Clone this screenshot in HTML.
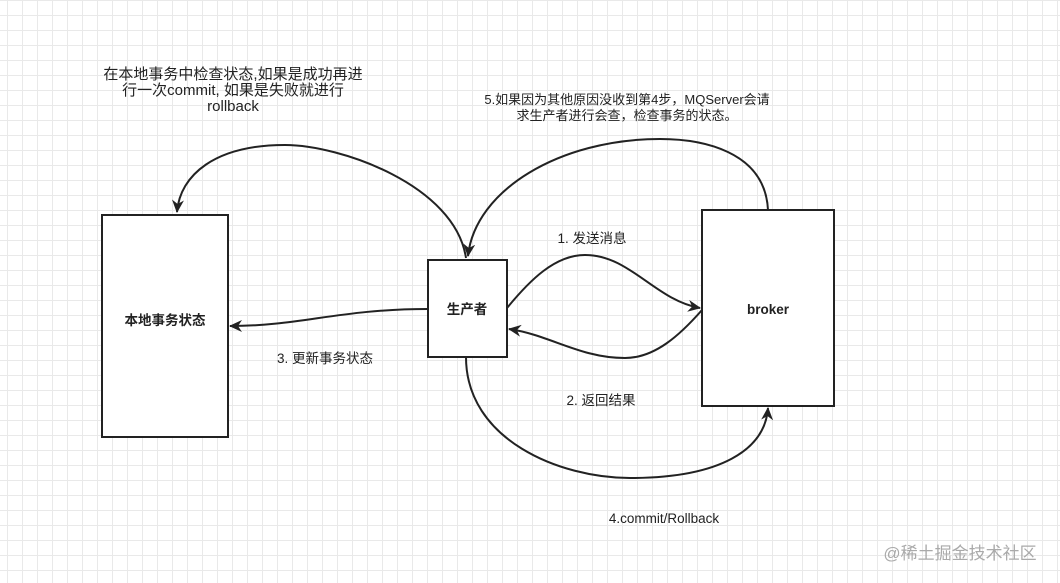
<!DOCTYPE html>
<html><head><meta charset="utf-8"><style>
html,body{margin:0;padding:0;}
body{width:1060px;height:583px;overflow:hidden;background:#fff;
background-image:linear-gradient(#e9e9e9 1px,transparent 1px),linear-gradient(90deg,#e9e9e9 1px,transparent 1px);
background-size:15px 15px;background-position:7px 0px;}
svg{position:absolute;left:0;top:0;}
text{font-family:"Liberation Sans","Noto Sans CJK SC",sans-serif;font-size:13.5px;fill:#222;}
</style></head><body>
<svg width="1060" height="583" viewBox="0 0 1060 583">
<defs><marker id="a" markerWidth="13" markerHeight="12" refX="12" refY="6" orient="auto" markerUnits="userSpaceOnUse"><path d="M0,0 L13,6 L0,12 L4,6 Z" fill="#222"/></marker></defs>
<g fill="#fff" stroke="#222" stroke-width="2">
<rect x="102" y="215" width="126" height="222"/>
<rect x="428" y="260" width="79" height="97"/>
<rect x="702" y="210" width="132" height="196"/>
</g>
<g fill="none" stroke="#222" stroke-width="2">
<path d="M466,258 C455,185 340,145 285,145 C215,145 180,175 177,212" marker-end="url(#a)"/>
<path d="M768,210 C765,150 700,139 660,139 C560,139 475,190 468,256" marker-end="url(#a)"/>
<path d="M507,308 C530,280 555,255 585,255 C630,255 655,300 700,308" marker-end="url(#a)"/>
<path d="M702,310 C680,335 655,358 625,358 C580,358 550,335 509,329" marker-end="url(#a)"/>
<path d="M428,309 C340,309 300,326 230,326" marker-end="url(#a)"/>
<path d="M466,357 C466,440 560,478 630,478 C720,478 765,450 768,408" marker-end="url(#a)"/>
</g>
<g text-anchor="middle">
<text x="233" y="79" style="font-size:15px">在本地事务中检查状态,如果是成功再进</text>
<text x="233" y="95" style="font-size:15px">行一次commit, 如果是失败就进行</text>
<text x="233" y="111" style="font-size:15px">rollback</text>
<text x="627" y="104" style="font-size:13px">5.如果因为其他原因没收到第4步，MQServer会请</text>
<text x="627" y="120" style="font-size:13px">求生产者进行会查，检查事务的状态。</text>
<text x="592" y="243">1. 发送消息</text>
<text x="325" y="363">3. 更新事务状态</text>
<text x="601" y="405">2. 返回结果</text>
<text x="664" y="523">4.commit/Rollback</text>
<text x="165" y="325" font-weight="bold">本地事务状态</text>
<text x="467" y="314" font-weight="bold">生产者</text>
<text x="768" y="314" font-weight="bold">broker</text>
<text x="960" y="559" style="font-size:17px;fill:#aaa">@稀土掘金技术社区</text>
</g>
</svg>
</body></html>
